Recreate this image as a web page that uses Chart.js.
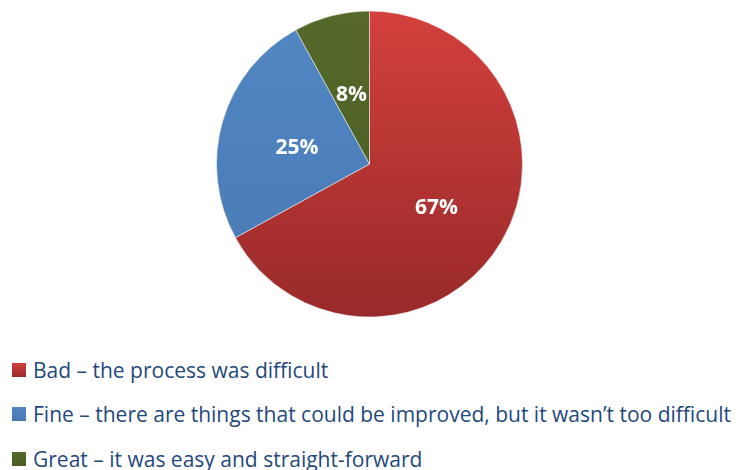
<!DOCTYPE html>
<html>
<head>
<meta charset="utf-8">
<script src="https://cdn.jsdelivr.net/npm/chart.js@4.4.0/dist/chart.umd.min.js"></script>
<style>
  html, body { margin: 0; padding: 0; background: #fff; overflow: hidden; }
  #wrap { position: relative; width: 739px; height: 470px; }
  #pieBox { position: absolute; left: 0; top: 0; width: 739px; height: 328px; }
  #legend { position: absolute; left: 12px; top: 0; font-family: 'Open Sans', sans-serif; font-size: 21px; color: #1F497D; }
  .item { position: absolute; left: 0; white-space: nowrap; display: flex; align-items: center; height: 28px; }
  .box { width: 14px; height: 14px; margin-right: 7px; }
</style>
</head>
<body>
<div id="wrap">
  <div id="pieBox"><canvas id="chart"></canvas></div>
  <div id="legend"></div>
</div>
<script>
const labels = [
  'Bad \u2013 the process was difficult',
  'Fine \u2013 there are things that could be improved, but it wasn\u2019t too difficult',
  'Great \u2013 it was easy and straight-forward',
];
const values = [67, 25, 8];
// light (top) and dark (bottom) shade for each slice
const topColors = ['#D3403D', '#5187C4', '#546829'];
const bottomColors = ['#982A29', '#4979B3', '#4B5D25'];
const legendRowsY = [370, 414, 459];
const pieRadius = 153;

const fillFor = (ctx) => {
  const i = ctx.dataIndex;
  const area = ctx.chart.chartArea;
  if (!area) return topColors[i];
  const cy = (area.top + area.bottom) / 2;
  const g = ctx.chart.ctx.createLinearGradient(0, cy - pieRadius, 0, cy + pieRadius);
  g.addColorStop(0, topColors[i]);
  g.addColorStop(1, bottomColors[i]);
  return g;
};

const pctLabels = {
  id: 'pctLabels',
  afterDatasetsDraw(chart) {
    const { ctx } = chart;
    const meta = chart.getDatasetMeta(0);
    ctx.save();
    ctx.fillStyle = '#ffffff';
    ctx.font = 'bold 21px "Open Sans", sans-serif';
    ctx.textAlign = 'center';
    ctx.textBaseline = 'middle';
    meta.data.forEach((arc, i) => {
      const p = arc.tooltipPosition();
      ctx.fillText(values[i] + '%', p.x + 1, p.y + 5);
    });
    ctx.restore();
  },
};

new Chart(document.getElementById('chart'), {
  type: 'pie',
  data: {
    labels: labels,
    datasets: [{
      data: values,
      backgroundColor: fillFor,
      borderColor: 'rgba(255,255,255,0.5)',
      borderWidth: 1,
      radius: pieRadius,
    }],
  },
  options: {
    responsive: true,
    maintainAspectRatio: false,
    animation: false,
    layout: { padding: 0 },
    plugins: {
      legend: { display: false },
      tooltip: { enabled: false },
    },
  },
  plugins: [pctLabels],
});

// legend built from the same arrays
const legendEl = document.getElementById('legend');
labels.forEach((text, i) => {
  const row = document.createElement('div');
  row.className = 'item';
  row.style.top = (legendRowsY[i] - 14) + 'px';
  const box = document.createElement('span');
  box.className = 'box';
  box.style.background = 'linear-gradient(' + topColors[i] + ',' + bottomColors[i] + ')';
  const span = document.createElement('span');
  span.textContent = text;
  row.appendChild(box);
  row.appendChild(span);
  legendEl.appendChild(row);
});
</script>
</body>
</html>
